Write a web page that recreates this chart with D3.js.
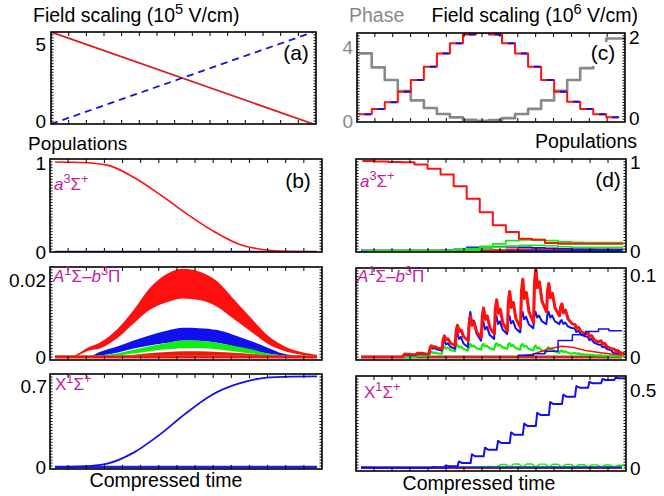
<!DOCTYPE html>
<html><head><meta charset="utf-8">
<script src="https://cdn.jsdelivr.net/npm/d3@7"></script>
<style>
body{margin:0;background:#fff}
svg{display:block}
text{font-family:"Liberation Sans",Arial,sans-serif}
</style>
</head><body>
<svg id="fig" width="664" height="496"></svg>
<script>
// ---------- data ----------
// (a) field ramps, 10^5 V/cm
var rampT = [0, 1]
var rampRed = [5.75, 0]
var rampBlue = [0, 5.75]

// (c) stepped field (10^6 V/cm) and phase, one value per step
var stepField = [0.1, 0.23, 0.4, 0.66, 0.95, 1.28, 1.61, 1.86, 2.08, 2.13, 2.08, 1.86, 1.61, 1.28, 0.95, 0.66, 0.41, 0.23, 0.1, 0.025]
var stepPhase = [3.66, 2.92, 2.25, 1.66, 1.17, 0.77, 0.45, 0.27, 0.14, 0.09, 0.13, 0.23, 0.45, 0.72, 1.17, 1.68, 2.25, 2.88, 3.66, 4.45]

// (b) smooth case, compressed time 0..1
var tB = [0, .1, .2, .3, .4, .5, .6, .7, .8, .9, 1]
var popA = [1.0, 0.995, 0.965, 0.83, 0.64, 0.43, 0.24, 0.09, 0.025, 0.005, 0.003]
var popX = [0, 0.005, 0.03, 0.124, 0.28, 0.465, 0.625, 0.72, 0.77, 0.781, 0.783]

var tM = [0, .07, .13, .17, .24, .3, .36, .43, .49, .55, .62, .68, .75, .81, .87, .94, 1]
var redHi = [0, 0.0004, 0.0026, 0.0037, 0.0074, 0.0122, 0.0178, 0.0217, 0.0229, 0.0222, 0.0196, 0.0152, 0.0100, 0.0057, 0.0030, 0.0013, 0.0006]
var redLo = [0, 0.0001, 0.0017, 0.0022, 0.0050, 0.0087, 0.0122, 0.0143, 0.0152, 0.0148, 0.0130, 0.0100, 0.0065, 0.0035, 0.0017, 0.0006, 0.0002]
var blueHi = [0, 0, 0.0001, 0.0013, 0.0028, 0.0043, 0.0056, 0.0069, 0.0076, 0.0075, 0.0070, 0.0058, 0.0041, 0.0025, 0.0009, 0.0003, 0.0001]
var blueLo = [0, 0, 0, 0.0004, 0.0012, 0.0022, 0.0030, 0.0037, 0.0043, 0.0042, 0.0037, 0.0028, 0.0017, 0.0009, 0.0004, 0.0001, 0]
var greenHi = [0, 0, 0, 0.0004, 0.0010, 0.0019, 0.0028, 0.0037, 0.0043, 0.0042, 0.0037, 0.0029, 0.0020, 0.0010, 0.0004, 0.0001, 0]
var greenLo = [0, 0, 0, 0.0001, 0.0004, 0.0009, 0.0015, 0.0020, 0.0023, 0.0023, 0.0020, 0.0015, 0.0009, 0.0004, 0.0001, 0, 0]
var red2Hi = [0, 0, 0, 0.0001, 0.0003, 0.0006, 0.0010, 0.0013, 0.0015, 0.0015, 0.0013, 0.0011, 0.0008, 0.0005, 0.0003, 0.0001, 0]

// (d) stepped case, one value per step (20 steps)
var dRed = [1.0, 0.995, 0.99, 0.985, 0.96, 0.915, 0.85, 0.72, 0.58, 0.43, 0.285, 0.21, 0.137, 0.126, 0.089, 0.081, 0.08, 0.08, 0.08, 0.08]
var dGreen = [0, 0, 0, 0, 0, 0, 0.005, 0.015, 0.026, 0.05, 0.08, 0.115, 0.125, 0.125, 0.115, 0.1, 0.095, 0.093, 0.092, 0.092]
var dGreen2 = [0, 0, 0, 0, 0, 0, 0, 0, 0.01, 0.03, 0.045, 0.055, 0.062, 0.063, 0.058, 0.048, 0.042, 0.04, 0.04, 0.04]
var dBlue = [0, 0, 0, 0, 0, 0, 0.005, 0.02, 0.04, 0.048, 0.05, 0.045, 0.04, 0.035, 0.03, 0.025, 0.02, 0.018, 0.016, 0.015]
var dRed2 = [0, 0, 0, 0, 0, 0, 0, 0, 0, 0.005, 0.01, 0.018, 0.02, 0.02, 0.02, 0.02, 0.02, 0.02, 0.02, 0.02]

// A-b spikes per step
var spRedPeak = [0, 0, 0, 0.004, 0.005, 0.014, 0.026, 0.039, 0.05, 0.06, 0.07, 0.08, 0.095, 0.108, 0.09, 0.065, 0.04, 0.03, 0.02, 0.01]
var spRedLow = [0, 0, 0, 0.003, 0.004, 0.010, 0.014, 0.020, 0.024, 0.028, 0.032, 0.036, 0.042, 0.055, 0.05, 0.04, 0.028, 0.018, 0.01, 0.004]
var spBluePeak = [0, 0, 0, 0.003, 0.004, 0.012, 0.02, 0.03, 0.055, 0.043, 0.05, 0.05, 0.055, 0.055, 0.055, 0.045, 0.035, 0.025, 0.015, 0.005]
var spBlueLow = [0, 0, 0, 0.002, 0.003, 0.008, 0.01, 0.012, 0.02, 0.022, 0.028, 0.03, 0.035, 0.04, 0.04, 0.035, 0.025, 0.015, 0.008, 0.004]
var spGreenPeak = [0, 0, 0, 0, 0.002, 0.006, 0.013, 0.015, 0.016, 0.016, 0.017, 0.017, 0.016, 0.014, 0.012, 0.008, 0.005, 0.003, 0.002, 0.001]
var spGreenLow = [0, 0, 0, 0, 0.001, 0.004, 0.007, 0.008, 0.009, 0.009, 0.01, 0.009, 0.008, 0.006, 0.005, 0.004, 0.003, 0.002, 0.001, 0.001]
var riseBlue = [[12, 0.002], [13.2, 0.004], [14.1, 0.007], [15.1, 0.02], [16.2, 0.027], [17.2, 0.031], [18.2, 0.034], [19, 0.032], [20, 0.032]]
var lowRed = [[12, 0.001], [13.1, 0.003], [14.4, 0.01], [15.4, 0.013], [16.2, 0.012], [17.2, 0.008], [18.5, 0.005], [20, 0.002]]

// X state, stepped case
var xStep = [0, 0, 0, 0, 0, 0.004, 0.012, 0.032, 0.075, 0.117, 0.16, 0.213, 0.27, 0.34, 0.41, 0.457, 0.515, 0.543, 0.564, 0.575]
var xBump = [0, 0, 0, 0, 0, 0.006, 0.017, 0.042, 0.088, 0.13, 0.174, 0.228, 0.285, 0.354, 0.423, 0.47, 0.525, 0.552, 0.57, 0.579]
var xGreenHump = [0, 0, 0, 0, 0, 0, 0, 0, 0, 0.01, 0.022, 0.026, 0.026, 0.025, 0.024, 0.023, 0.021, 0.02, 0.019, 0.018]

var RED = "#ff1010", BLUE = "#1010ee", GREEN = "#10ee10", MAG = "#c0209c", GRAY = "#888888"

var svg = d3.select("#fig")
var clipId = 0

// ---------- helpers ----------
function frame(x0, x1, y0, y1) {
  var g = svg.append("g")
  var id = "clip" + (clipId++)
  svg.append("clipPath").attr("id", id).append("rect")
    .attr("x", x0).attr("y", y0).attr("width", x1 - x0).attr("height", y1 - y0)
  var data = g.append("g").attr("clip-path", "url(#" + id + ")")
  var ticks = g.append("g").attr("stroke", "#000").attr("stroke-width", 1)
  var nx = 15, ny = 32
  for (var i = 1; i < nx; i++) {
    var xx = x0 + (x1 - x0) * i / nx
    ticks.append("line").attr("x1", xx).attr("x2", xx).attr("y1", y1).attr("y2", y1 - 4)
    ticks.append("line").attr("x1", xx).attr("x2", xx).attr("y1", y0).attr("y2", y0 + 4)
  }
  for (var j = 1; j < ny; j++) {
    var yy = y0 + (y1 - y0) * j / ny
    ticks.append("line").attr("x1", x0).attr("x2", x0 + 2.5).attr("y1", yy).attr("y2", yy)
    ticks.append("line").attr("x1", x1).attr("x2", x1 - 2.5).attr("y1", yy).attr("y2", yy)
  }
  g.append("rect").attr("x", x0).attr("y", y0).attr("width", x1 - x0).attr("height", y1 - y0)
    .attr("fill", "none").attr("stroke", "#000").attr("stroke-width", 1.6)
  return data
}

function rich(x, y, parts, size, color, anchor) {
  var t = svg.append("text").attr("x", x).attr("y", y)
    .attr("font-size", size).attr("fill", color).attr("text-anchor", anchor || "start")
  var up = false
  parts.forEach(function(p) {
    var s = t.append("tspan").text(p.t)
    if (p.i) s.attr("font-style", "italic")
    if (p.sup && !up) { s.attr("dy", -size * 0.4).attr("font-size", size * 0.75); up = true }
    else if (p.sup) s.attr("font-size", size * 0.75)
    else if (up) { s.attr("dy", size * 0.4); up = false }
  })
  return t
}

function label(x, y, txt, size, color, anchor) {
  return svg.append("text").attr("x", x).attr("y", y).attr("dy", "0.35em")
    .attr("font-size", size || 19).attr("fill", color || "#000")
    .attr("text-anchor", anchor || "end").text(txt)
}

function plotLine(g, pts, x, y, color, w, curve, dash) {
  var line = d3.line().x(function(d) { return x(d[0]) }).y(function(d) { return y(d[1]) })
    .curve(curve || d3.curveLinear)
  var p = g.append("path").datum(pts).attr("d", line).attr("fill", "none")
    .attr("stroke", color).attr("stroke-width", w).attr("stroke-linejoin", "round")
  if (dash) p.attr("stroke-dasharray", dash)
  return p
}

function zip(ts, vs) { return ts.map(function(t, i) { return [t, vs[i]] }) }
function steps(vs, off) {
  var pts = []
  vs.forEach(function(v, k) { pts.push([k + off, v]) })
  pts.push([vs.length + off, vs[vs.length - 1]])
  return pts
}
function band(g, ts, lo, hi, x, y, color) {
  var area = d3.area().x(function(d) { return x(d.t) }).y0(function(d) { return y(d.lo) })
    .y1(function(d) { return y(d.hi) }).curve(d3.curveMonotoneX)
  g.append("path").datum(ts.map(function(t, i) { return {t: t, lo: lo[i], hi: hi[i]} }))
    .attr("d", area).attr("fill", color)
}

// ---------- (a) ----------
var xa = d3.scaleLinear().domain([0, 1.01]).range([51, 316])
var ya = d3.scaleLinear().domain([0, 5.75]).range([124, 32])
var ga = frame(51, 316, 32, 124)
plotLine(ga, zip(rampT, rampRed), xa, ya, "#d81e1e", 1.8)
plotLine(ga, zip(rampT, rampBlue), xa, ya, "#1616d0", 1.8, null, "7,5")
label(46, ya(5), "5")
label(46, ya(0) - 3, "0")
rich(33, 22, [{t: "Field scaling (10"}, {t: "5", sup: true}, {t: " V/cm)"}], 19.5, "#000")
svg.append("text").attr("x", 296).attr("y", 60).attr("text-anchor", "middle").attr("font-size", 21).text("(a)")

// ---------- (c) ----------
var xc = d3.scaleLinear().domain([0, 20]).range([358.7, 619.3])
var yField = d3.scaleLinear().domain([0, 2]).range([118.3, 37.7])
var yPhase = d3.scaleLinear().domain([0, 4]).range([122.5, 47])
var gc = frame(357, 625, 33, 122)
var phasePts = steps(stepPhase, 0)
phasePts[phasePts.length - 1][0] = 20.5
plotLine(gc, phasePts, xc, yPhase, GRAY, 2.6, d3.curveStepAfter)
plotLine(gc, steps(stepField, 0), xc, yField, RED, 2, d3.curveStepAfter)
stepField.forEach(function(v, k) {
  gc.append("line").attr("x1", xc(k + 0.45)).attr("x2", xc(k + 1) - 1)
    .attr("y1", yField(v)).attr("y2", yField(v)).attr("stroke", BLUE).attr("stroke-width", 2)
})
svg.append("rect").attr("x", 589).attr("y", 42).attr("width", 29).attr("height", 24).attr("fill", "#fff")
svg.append("text").attr("x", 603).attr("y", 60).attr("text-anchor", "middle").attr("font-size", 21).text("(c)")
label(353, yPhase(4), "4", 19, GRAY)
label(353, yPhase(0) - 1, "0", 19, GRAY)
label(629, yField(2), "2", 19, "#000", "start")
label(629, yField(0), "0", 19, "#000", "start")
svg.append("text").attr("x", 349).attr("y", 22).attr("font-size", 19.5).attr("fill", GRAY).text("Phase")
rich(638, 22, [{t: "Field scaling (10"}, {t: "6", sup: true}, {t: " V/cm)"}], 19.5, "#000", "end")

// ---------- left column ----------
var xl = d3.scaleLinear().domain([0, 1]).range([55, 317])
var yb = d3.scaleLinear().domain([0, 1]).range([252, 162])
var gb = frame(50, 322, 159, 252)
plotLine(gb, [[0, 0], [1, 0]], xl, yb, "#2a2ac8", 2.6)
plotLine(gb, zip(tB, popA), xl, yb, RED, 1.6, d3.curveMonotoneX)
label(46, yb(1) + 1, "1")
label(46, yb(0), "0")
svg.append("text").attr("x", 28).attr("y", 149.5).attr("font-size", 19).text("Populations")
svg.append("text").attr("x", 298).attr("y", 188).attr("text-anchor", "middle").attr("font-size", 21).text("(b)")
rich(54, 190, [{t: "a", i: true}, {t: "3", sup: true}, {t: "Σ"}, {t: "+", sup: true}], 17, MAG)

var ym = d3.scaleLinear().domain([0, 0.02]).range([357, 280])
var gm = frame(50, 322, 267, 360)
band(gm, tM, redLo, redHi, xl, ym, RED)
band(gm, tM, blueLo, blueHi, xl, ym, BLUE)
band(gm, tM, greenLo, greenHi, xl, ym, GREEN)
band(gm, tM, tM.map(function() { return 0.0002 }), red2Hi, xl, ym, RED)
plotLine(gm, [[0, 0.0003], [1, 0.0003]], xl, ym, GREEN, 1)
plotLine(gm, [[0, 0], [1, 0]], xl, ym, RED, 3)
label(46, ym(0.02), "0.02")
label(46, ym(0), "0")
rich(53, 282, [{t: "A", i: true}, {t: "1", sup: true}, {t: "Σ–"}, {t: "b", i: true}, {t: "3", sup: true}, {t: "Π"}], 17, MAG)

var yx = d3.scaleLinear().domain([0, 0.7]).range([467, 386])
var gx = frame(50, 322, 374, 469)
plotLine(gx, [[0, 0], [1, 0]], xl, yx, "#2020d8", 2.6)
plotLine(gx, zip(tB, popX), xl, yx, BLUE, 1.8, d3.curveMonotoneX)
label(47, yx(0.7), "0.7")
label(46, yx(0), "0")
rich(55, 390, [{t: "X"}, {t: "1", sup: true}, {t: "Σ"}, {t: "+", sup: true}], 17, MAG)
svg.append("text").attr("x", 166).attr("y", 487).attr("text-anchor", "middle").attr("font-size", 19.5).text("Compressed time")

// ---------- right column ----------
var xr = d3.scaleLinear().domain([0, 20]).range([361, 622])
var yd = d3.scaleLinear().domain([0, 1]).range([251, 161])
var gd = frame(356, 626, 159, 252)
plotLine(gd, [[0, 0.004], [20, 0.004]], xr, yd, "#2020c8", 2.4)
plotLine(gd, steps(dRed2, 0.1), xr, yd, RED, 1.6, d3.curveStepAfter)
plotLine(gd, steps(dBlue, 0.1), xr, yd, BLUE, 1.6, d3.curveStepAfter)
plotLine(gd, steps(dGreen2, 0.1), xr, yd, GREEN, 1.6, d3.curveStepAfter)
plotLine(gd, steps(dGreen, 0.1), xr, yd, GREEN, 1.8, d3.curveStepAfter)
plotLine(gd, steps(dRed, 0.1), xr, yd, RED, 2, d3.curveStepAfter)
label(630, yd(1) + 1, "1", 19, "#000", "start")
label(630, yd(0), "0", 19, "#000", "start")
svg.append("text").attr("x", 637).attr("y", 148).attr("text-anchor", "end").attr("font-size", 19.5).text("Populations")
svg.append("text").attr("x", 608).attr("y", 187).attr("text-anchor", "middle").attr("font-size", 21).text("(d)")
rich(360, 187, [{t: "a", i: true}, {t: "3", sup: true}, {t: "Σ"}, {t: "+", sup: true}], 17, MAG)

// spike shape: sharp rise to the peak, wide shoulder, decay to the low value
function spikes(peak, low, off) {
  var pts = [[0, 0]]
  peak.forEach(function(p, k) {
    var prev = k ? low[k - 1] : 0
    var l = low[k]
    pts.push([k + off, prev], [k + off + 0.08, prev + (p - prev) * 0.75], [k + off + 0.18, p],
      [k + off + 0.3, l + (p - l) * 0.55], [k + off + 0.45, l + (p - l) * 0.7],
      [k + off + 0.65, l + (p - l) * 0.25], [k + 1 + off, l])
  })
  return pts
}
var ymr = d3.scaleLinear().domain([0, 0.1]).range([357, 275])
var gmr = frame(356, 626, 268, 360)
plotLine(gmr, [[0, 0], [20, 0]], xr, ymr, "#c03020", 3)
plotLine(gmr, spikes(spGreenPeak, spGreenLow, 0.2), xr, ymr, GREEN, 2.2)
plotLine(gmr, spikes(spBluePeak, spBlueLow, 0.2), xr, ymr, BLUE, 2)
plotLine(gmr, spikes(spRedPeak, spRedLow, 0.2), xr, ymr, RED, 2.6)
plotLine(gmr, spikes(spRedPeak, spRedLow, 0.28), xr, ymr, RED, 1.4)
plotLine(gmr, lowRed, xr, ymr, RED, 1.5)
plotLine(gmr, riseBlue, xr, ymr, BLUE, 1.5, d3.curveStepAfter)
label(630, ymr(0.1), "0.1", 19, "#000", "start")
label(630, ymr(0), "0", 19, "#000", "start")
rich(357, 282, [{t: "A", i: true}, {t: "1", sup: true}, {t: "Σ–"}, {t: "b", i: true}, {t: "3", sup: true}, {t: "Π"}], 17, MAG)

var yxr = d3.scaleLinear().domain([0, 0.5]).range([468, 390])
var gxr = frame(356, 626, 376, 471)
var xPts = [[0, 0.003]]
xStep.forEach(function(v, k) {
  var prev = k ? xStep[k - 1] : 0.003
  if (v > prev) xPts.push([k + 0.4, prev], [k + 0.5, xBump[k]], [k + 0.75, v])
  xPts.push([k + 1.4, v])
})
var gPts = [[8.4, 0.004]]
xGreenHump.forEach(function(v, k) {
  if (v > 0) gPts.push([k + 0.45, 0.009], [k + 0.7, v], [k + 1.1, v], [k + 1.35, 0.009])
})
plotLine(gxr, [[0, 0.002], [20, 0.002]], xr, yxr, "#c02020", 2.5)
plotLine(gxr, [[8.5, 0.008], [20, 0.008]], xr, yxr, GREEN, 1.4)
plotLine(gxr, gPts, xr, yxr, GREEN, 1.4)
plotLine(gxr, [[0, 0.004], [20, 0.004]], xr, yxr, "#2020c8", 1.6)
plotLine(gxr, xPts, xr, yxr, BLUE, 2)
label(630, yxr(0.5), "0.5", 19, "#000", "start")
label(630, yxr(0), "0", 19, "#000", "start")
rich(364, 398, [{t: "X"}, {t: "1", sup: true}, {t: "Σ"}, {t: "+", sup: true}], 17, MAG)
svg.append("text").attr("x", 479).attr("y", 490).attr("text-anchor", "middle").attr("font-size", 19.5).text("Compressed time")
</script>
</body></html>
